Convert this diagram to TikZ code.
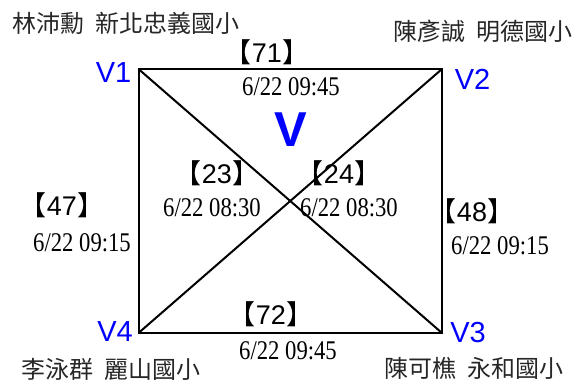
\documentclass[tikz,border=0pt]{standalone}
\usepackage{fontspec}
\setmainfont{Liberation Serif}
\newfontfamily\cjkfont{Noto Sans CJK TC}
\newfontfamily\datefont[FakeStretch=0.84]{Liberation Serif}
\newfontfamily\arialfont{Liberation Sans}
\usepackage{xcolor}
\definecolor{vblue}{RGB}{0, 0, 255}
\usetikzlibrary{positioning}
\newcommand{\blab}[1]{{\cjkfont 【}{\arialfont #1}{\cjkfont 】}}

\begin{document}
\begin{tikzpicture}[x=1pt, y=-1pt,
        vtx/.style={font=\arialfont\fontsize{29}{30}\selectfont,
                    text=vblue, inner sep=0pt},
        tagl/.style={font=\fontsize{27}{30}\selectfont, inner sep=0pt},
        tim/.style={font=\datefont\fontsize{27}{30}\selectfont, inner sep=0pt},
        who/.style={font=\cjkfont\fontsize{24}{26}\selectfont,
                    text=black!85, inner sep=0pt},
        edg/.style={line width=2pt},
      ]
        \useasboundingbox (0,0) rectangle (575,381);

        % corners of the square
        \coordinate (c1) at (138.5, 69);
        \coordinate (c2) at (442, 69);
        \coordinate (c3) at (442, 333);
        \coordinate (c4) at (138.5, 333);

        \node[vtx] (v1) at (113.5, 72.5) {V1};
        \node[vtx] (v2) at (472.5, 79.5) {V2};
        \node[vtx] (v3) at (468, 332.5) {V3};
        \node[vtx] (v4) at (115, 331.5) {V4};
        \node[font=\arialfont\bfseries\fontsize{49}{50}\selectfont,
              text=vblue, inner sep=0pt] (vv) at (290.5, 129.5) {V};

        \node[who] (p1) at (126, 23) {林沛勳\hspace{0.45em}新北忠義國小};
        \node[who] (p2) at (483, 31) {陳彥誠\hspace{0.45em}明德國小};
        \node[who] (p3) at (474, 368) {陳可樵\hspace{0.45em}永和國小};
        \node[who] (p4) at (111, 369) {李泳群\hspace{0.45em}麗山國小};

        \node[tagl] (t71) at (267, 52)  {\blab{71}};
        \node[tim]  (d71) at (291, 86.5) {6/22 09:45};
        \node[tagl] (t23) at (217, 173) {\blab{23}};
        \node[tim]  (d23) at (212, 208) {6/22 08:30};
        \node[tagl] (t24) at (339, 173) {\blab{24}};
        \node[tim]  (d24) at (349, 208) {6/22 08:30};
        \node[tagl] (t47) at (62, 205)  {\blab{47}};
        \node[tim]  (d47) at (82, 243)  {6/22 09:15};
        \node[tagl] (t48) at (472, 211) {\blab{48}};
        \node[tim]  (d48) at (500, 246) {6/22 09:15};
        \node[tagl] (t72) at (271, 314) {\blab{72}};
        \node[tim]  (d72) at (288, 351) {6/22 09:45};

        \draw[edg] (c1) -- (c2) -- (c3) -- (c4) -- cycle;
        \draw[edg] (c1) -- (c3);
        \draw[edg] (c2) -- (c4);
      \end{tikzpicture}
\end{document}
